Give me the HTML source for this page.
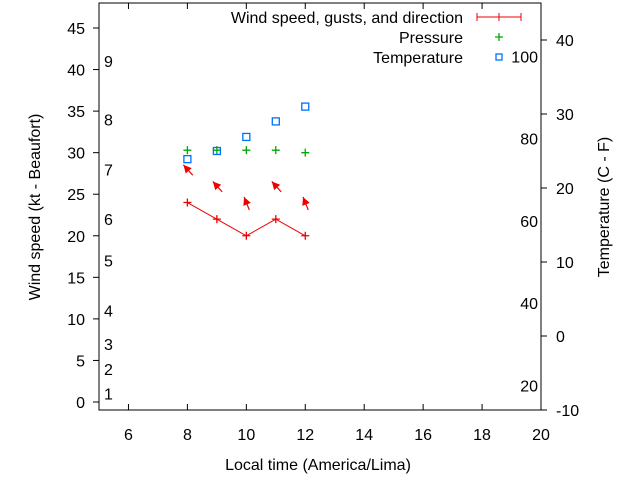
<!DOCTYPE html>
<html><head><meta charset="utf-8"><style>body{margin:0;background:#fff}svg{display:block;font-family:"Liberation Sans",sans-serif;font-size:16px}</style></head>
<body>
<svg id="c" width="640" height="480"></svg>
<script>
const hours=[8,9,10,11,12];
const windSpeed=[24,22,20,22,20];
const pressure=[30.3,30.3,30.3,30.3,30.0];
const tempC=[23.9,25,26.9,29,31];
const arrowY=[28,26,24,26,24];
const arrowDir=[132,132,112,132,112];
const xTicks=[6,8,10,12,14,16,18,20];
const yTicks=[0,5,10,15,20,25,30,35,40,45];
const y2Ticks=[-10,0,10,20,30,40];
const beaufort=[[1,1],[2,4],[3,7],[4,11],[5,17],[6,22],[7,28],[8,34],[9,41]];
const fahr=[20,40,60,80,100];
const L=99,R=541,T=3,B=410;
const X=v=>L+(v-5)*(R-L)/15;
const Y=v=>402-v*(402-28)/45;
const Y2=v=>336-v*7.4;
const s=document.getElementById('c');
function el(t,a,txt){const e=document.createElementNS('http://www.w3.org/2000/svg',t);for(const k in a)e.setAttribute(k,a[k]);if(txt!=null)e.textContent=txt;s.appendChild(e);return e;}
let e;
e=el('rect',{x:L,y:T,width:R-L,height:B-T,fill:'none',stroke:'#000'});


xTicks.forEach(v=>{el('line',{x1:X(v),x2:X(v),y1:B,y2:B-6,stroke:'#000'});el('line',{x1:X(v),x2:X(v),y1:T,y2:T+6,stroke:'#000'});
e=el('text',{x:X(v),y:B+30,'text-anchor':'middle'},v);

});
yTicks.forEach(v=>{el('line',{x1:L-6,x2:L,y1:Y(v),y2:Y(v),stroke:'#000'});
e=el('text',{x:L-14,y:Y(v)+6,'text-anchor':'end'},v);

});
y2Ticks.forEach(v=>{el('line',{x1:R,x2:R+6,y1:Y2(v),y2:Y2(v),stroke:'#000'});
e=el('text',{x:R+15,y:Y2(v)+6},v);

});
beaufort.forEach(b=>{e=el('text',{x:104,y:Y(b[1])+6},b[0]);

});
fahr.forEach(f=>{e=el('text',{x:538,y:Y2((f-32)*5/9)+6,'text-anchor':'end'},f);

});
e=el('text',{x:318,y:470,'text-anchor':'middle'},'Local time (America/Lima)');


e=el('text',{x:40,y:207,'text-anchor':'middle',transform:'rotate(-90 40 207)'},'Wind speed (kt - Beaufort)');


e=el('text',{x:609,y:207,'text-anchor':'middle',transform:'rotate(-90 609 207)'},'Temperature (C - F)');


e=el('polyline',{points:hours.map((h,i)=>X(h)+','+Y(windSpeed[i])).join(' '),fill:'none',stroke:'#e00',"stroke-width":1});


function plus(x,y,c,n){e=el('path',{d:`M${x-4},${y}h8M${x},${y-4}v8`,stroke:c,'stroke-width':1.3});

}
hours.forEach((h,i)=>{plus(X(h),Y(windSpeed[i]),'#e00','wind-point');plus(X(h),Y(pressure[i]),'#0a0','pressure-point');
e=el('rect',{x:X(h)-3.5,y:Y2(tempC[i])-3.5,width:7,height:7,fill:'none',stroke:'#0070ff','stroke-width':1.3});


const a=arrowDir[i]*Math.PI/180,cx=X(h),cy=Y(arrowY[i]);
const dx=Math.cos(a),dy=-Math.sin(a);
const x1=cx-dx*8,y1=cy-dy*8,x2=cx+dx*6,y2=cy+dy*6;
const px=-dy,py=dx;
e=el('line',{x1,y1,x2,y2,stroke:'#e00','stroke-width':1.2});


el('polygon',{points:`${x2},${y2} ${x2-dx*8+px*4},${y2-dy*8+py*4} ${x2-dx*8-px*4},${y2-dy*8-py*4}`,fill:'#e00'});
});
e=el('text',{x:463,y:23,'text-anchor':'end'},'Wind speed, gusts, and direction');


el('path',{d:'M477,17h44M477,13v8M521,13v8M499,13v8',stroke:'#e00'});
e=el('text',{x:463,y:43,'text-anchor':'end'},'Pressure');


plus(499,37,'#0a0','legend-pressure-symbol');
e=el('text',{x:463,y:63,'text-anchor':'end'},'Temperature');


el('rect',{x:496,y:54,width:6,height:6,fill:'none',stroke:'#0070ff','stroke-width':1.3});
</script>
</body></html>
